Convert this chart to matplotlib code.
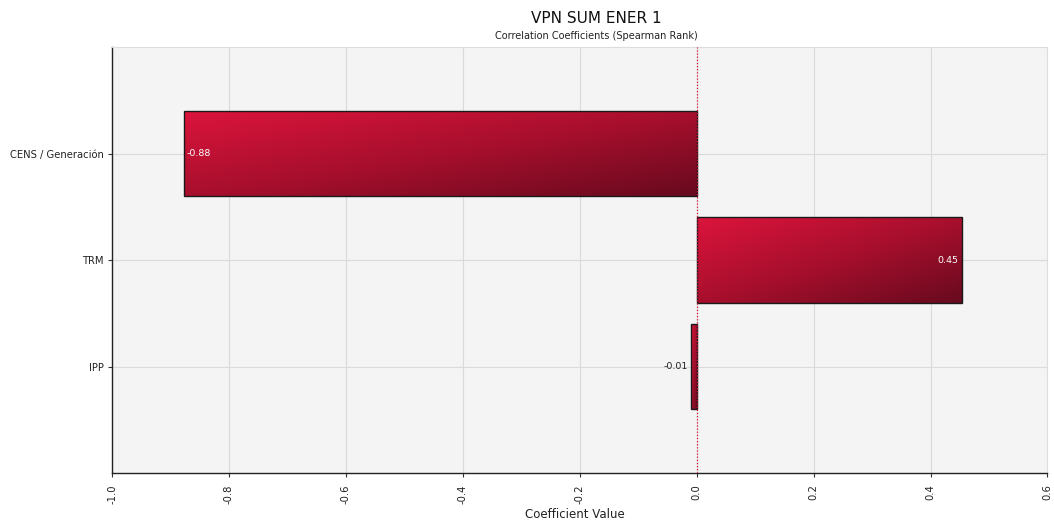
import numpy as np
import matplotlib
matplotlib.use("Agg")
import matplotlib.pyplot as plt
from matplotlib.colors import LinearSegmentedColormap

categories = ["CENS / Generación", "TRM", "IPP"]
values = [-0.877, 0.453, -0.009]
labels = ["-0.88", "0.45", "-0.01"]
xticks = [-1.0, -0.8, -0.6, -0.4, -0.2, 0.0, 0.2, 0.4, 0.6]

fig = plt.figure(figsize=(10.54, 5.24), dpi=100)
fig.patch.set_facecolor("white")
ax = fig.add_axes([0.1063, 0.0973, 0.8875, 0.813])
ax.set_facecolor("#F4F4F4")

ypos = np.arange(len(categories))

cmap = LinearSegmentedColormap.from_list("rd", ["#DC143C", "#A80F2D", "#680A1E"])
gx, gy = np.meshgrid(np.linspace(0, 1, 200), np.linspace(0, 1, 100))
grad = 0.5 * gx + 0.5 * gy

ax.grid(True, color="#DADADA", linewidth=0.8, zorder=0)
ax.set_axisbelow(True)

bars = ax.barh(ypos, values, height=0.8, color="none", edgecolor="#1A1A1A",
               linewidth=1.0, zorder=3)
for b in bars:
    x0, y0 = b.get_x(), b.get_y()
    w, h = b.get_width(), b.get_height()
    xa, xb = min(x0, x0 + w), max(x0, x0 + w)
    im = ax.imshow(grad, cmap=cmap, extent=[xa, xb, y0 + h, y0], aspect="auto",
                   origin="upper", zorder=2, interpolation="bilinear")
    im.set_clip_path(b)
ax.set_xlim(-1.0, 0.6)
ax.set_ylim(3, -1)

ax.axvline(0, color="#E0103A", linestyle=(0, (1, 1.5)), linewidth=0.9, zorder=4)

# value labels
ax.text(values[0] + 0.005, ypos[0], labels[0], color="white", fontsize=6.8,
        va="center", ha="left", zorder=5)
ax.text(values[1] - 0.005, ypos[1], labels[1], color="white", fontsize=6.8,
        va="center", ha="right", zorder=5)
ax.text(values[2] - 0.006, ypos[2], labels[2], color="#222222", fontsize=6.8,
        va="center", ha="right", zorder=5)

ax.set_yticks(ypos)
ax.set_yticklabels(categories, fontsize=7.2, color="#222222")
ax.set_xticks(xticks)
ax.set_xticklabels([f"{t:.1f}" for t in xticks], rotation=90, fontsize=7.2, color="#222222")
ax.tick_params(axis="both", length=3, width=0.8, color="#333333")
ax.tick_params(axis="x", pad=5)
ax.tick_params(axis="y", pad=3)

for s in ["left", "bottom"]:
    ax.spines[s].set_color("#222222")
    ax.spines[s].set_linewidth(1.0)
for s in ["top", "right"]:
    ax.spines[s].set_color("#DDDDDD")
    ax.spines[s].set_linewidth(0.8)

fig.text(0.5455, 0.019, "Coefficient Value", ha="center", va="center", fontsize=8.5, color="#222222")
fig.text(0.5655, 0.965, "VPN SUM ENER 1", ha="center", va="center", fontsize=11, color="#111111")
fig.text(0.5655, 0.931, "Correlation Coefficients (Spearman Rank)", ha="center", va="center",
         fontsize=7, color="#222222")

fig.savefig("out.png", dpi=100)
